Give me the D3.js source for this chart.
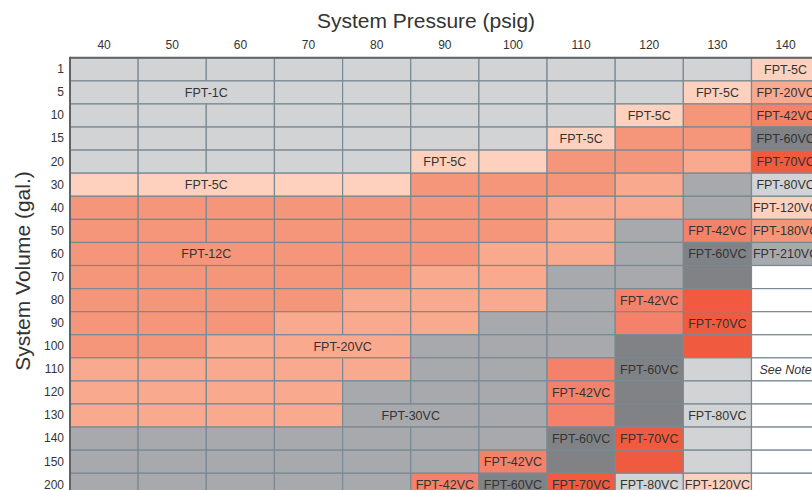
<!DOCTYPE html>
<html>
<head>
<meta charset="utf-8">
<script src="https://cdn.jsdelivr.net/npm/d3@7"></script>
<style>
  html, body { margin: 0; padding: 0; background: #ffffff; overflow: hidden; }
  svg { display: block; font-family: "Liberation Sans", Arial, sans-serif; }
</style>
</head>
<body>
<svg id="chart" width="812" height="490"></svg>
<script>
// ---------- DATA ----------
const pressures = ["40","50","60","70","80","90","100","110","120","130","140"];
const volumes = ["1","5","10","15","20","30","40","50","60","70","80","90","100","110","120","130","140","150","200"];

const modelNames = ["FPT-1C","FPT-5C","FPT-12C","FPT-20VC","FPT-30VC","FPT-42VC","FPT-60VC","FPT-70VC","FPT-80VC","FPT-120VC","FPT-180VC","FPT-210VC","See Note"];
const modelColors = ["#d1d3d4","#fdd1be","#f5967a","#f9a98d","#a7a9ac","#f4826a","#808285","#f05a3e","#d1d3d4","#fdd1be","#f5967a","#a7a9ac","#ffffff"];

// model chosen for each volume row (top to bottom) and pressure column (left to right)
const row1   = ["FPT-1C","FPT-1C","FPT-1C","FPT-1C","FPT-1C","FPT-1C","FPT-1C","FPT-1C","FPT-1C","FPT-1C","FPT-5C"];
const row5   = ["FPT-1C","FPT-1C","FPT-1C","FPT-1C","FPT-1C","FPT-1C","FPT-1C","FPT-1C","FPT-1C","FPT-5C","FPT-20VC"];
const row10  = ["FPT-1C","FPT-1C","FPT-1C","FPT-1C","FPT-1C","FPT-1C","FPT-1C","FPT-1C","FPT-5C","FPT-12C","FPT-42VC"];
const row15  = ["FPT-1C","FPT-1C","FPT-1C","FPT-1C","FPT-1C","FPT-1C","FPT-1C","FPT-5C","FPT-12C","FPT-12C","FPT-60VC"];
const row20  = ["FPT-1C","FPT-1C","FPT-1C","FPT-1C","FPT-1C","FPT-5C","FPT-5C","FPT-12C","FPT-12C","FPT-20VC","FPT-70VC"];
const row30  = ["FPT-5C","FPT-5C","FPT-5C","FPT-5C","FPT-5C","FPT-12C","FPT-12C","FPT-12C","FPT-20VC","FPT-30VC","FPT-80VC"];
const row40  = ["FPT-12C","FPT-12C","FPT-12C","FPT-12C","FPT-12C","FPT-12C","FPT-12C","FPT-20VC","FPT-20VC","FPT-30VC","FPT-120VC"];
const row50  = ["FPT-12C","FPT-12C","FPT-12C","FPT-12C","FPT-12C","FPT-12C","FPT-12C","FPT-20VC","FPT-30VC","FPT-42VC","FPT-180VC"];
const row60  = ["FPT-12C","FPT-12C","FPT-12C","FPT-12C","FPT-12C","FPT-12C","FPT-20VC","FPT-20VC","FPT-30VC","FPT-60VC","FPT-210VC"];
const row70  = ["FPT-12C","FPT-12C","FPT-12C","FPT-12C","FPT-12C","FPT-20VC","FPT-20VC","FPT-30VC","FPT-30VC","FPT-60VC","See Note"];
const row80  = ["FPT-12C","FPT-12C","FPT-12C","FPT-12C","FPT-20VC","FPT-20VC","FPT-20VC","FPT-30VC","FPT-42VC","FPT-70VC","See Note"];
const row90  = ["FPT-12C","FPT-12C","FPT-12C","FPT-20VC","FPT-20VC","FPT-20VC","FPT-30VC","FPT-30VC","FPT-42VC","FPT-70VC","See Note"];
const row100 = ["FPT-12C","FPT-12C","FPT-20VC","FPT-20VC","FPT-20VC","FPT-30VC","FPT-30VC","FPT-30VC","FPT-60VC","FPT-70VC","See Note"];
const row110 = ["FPT-20VC","FPT-20VC","FPT-20VC","FPT-20VC","FPT-20VC","FPT-30VC","FPT-30VC","FPT-42VC","FPT-60VC","FPT-80VC","See Note"];
const row120 = ["FPT-20VC","FPT-20VC","FPT-20VC","FPT-20VC","FPT-30VC","FPT-30VC","FPT-30VC","FPT-42VC","FPT-60VC","FPT-80VC","See Note"];
const row130 = ["FPT-20VC","FPT-20VC","FPT-20VC","FPT-20VC","FPT-30VC","FPT-30VC","FPT-30VC","FPT-42VC","FPT-60VC","FPT-80VC","See Note"];
const row140 = ["FPT-30VC","FPT-30VC","FPT-30VC","FPT-30VC","FPT-30VC","FPT-30VC","FPT-30VC","FPT-60VC","FPT-70VC","FPT-80VC","See Note"];
const row150 = ["FPT-30VC","FPT-30VC","FPT-30VC","FPT-30VC","FPT-30VC","FPT-30VC","FPT-42VC","FPT-60VC","FPT-70VC","FPT-80VC","See Note"];
const row200 = ["FPT-30VC","FPT-30VC","FPT-30VC","FPT-30VC","FPT-30VC","FPT-42VC","FPT-60VC","FPT-70VC","FPT-80VC","FPT-120VC","See Note"];
const gridRows = [row1,row5,row10,row15,row20,row30,row40,row50,row60,row70,row80,row90,row100,row110,row120,row130,row140,row150,row200];

// labelled cells: [volume, pressure, column span, text]
const labelCells = [
  ["5","50",2,"FPT-1C"],
  ["1","140",1,"FPT-5C"],
  ["5","130",1,"FPT-5C"],
  ["10","120",1,"FPT-5C"],
  ["15","110",1,"FPT-5C"],
  ["20","90",1,"FPT-5C"],
  ["30","50",2,"FPT-5C"],
  ["60","50",2,"FPT-12C"],
  ["100","70",2,"FPT-20VC"],
  ["130","80",2,"FPT-30VC"],
  ["5","140",1,"FPT-20VC"],
  ["10","140",1,"FPT-42VC"],
  ["15","140",1,"FPT-60VC"],
  ["20","140",1,"FPT-70VC"],
  ["30","140",1,"FPT-80VC"],
  ["40","140",1,"FPT-120VC"],
  ["50","140",1,"FPT-180VC"],
  ["60","140",1,"FPT-210VC"],
  ["50","130",1,"FPT-42VC"],
  ["60","130",1,"FPT-60VC"],
  ["90","130",1,"FPT-70VC"],
  ["80","120",1,"FPT-42VC"],
  ["110","120",1,"FPT-60VC"],
  ["110","140",1,"See Note"],
  ["120","110",1,"FPT-42VC"],
  ["130","130",1,"FPT-80VC"],
  ["140","110",1,"FPT-60VC"],
  ["140","120",1,"FPT-70VC"],
  ["150","100",1,"FPT-42VC"],
  ["200","90",1,"FPT-42VC"],
  ["200","100",1,"FPT-60VC"],
  ["200","110",1,"FPT-70VC"],
  ["200","120",1,"FPT-80VC"],
  ["200","130",1,"FPT-120VC"]
];

const xTitle = "System Pressure (psig)";
const yTitle = "System Volume (gal.)";

// ---------- DRAW ----------
const svg = d3.select("#chart");
const gridLeft = 70, gridTop = 57.8, colW = 68.15, rowH = 23.08;

const x = d3.scaleBand().domain(pressures).range([gridLeft, gridLeft + colW * pressures.length]).padding(0);
const y = d3.scaleBand().domain(volumes).range([gridTop, gridTop + rowH * volumes.length]).padding(0);
const color = d3.scaleOrdinal().domain(modelNames).range(modelColors);

// build blocks (merge spanned label cells)
const blocks = [];
volumes.forEach((v, ri) => {
  let ci = 0;
  while (ci < pressures.length) {
    const p = pressures[ci];
    const lab = labelCells.find(l => l[0] === v && l[1] === p);
    const span = lab ? lab[2] : 1;
    blocks.push({ v, p, span, model: gridRows[ri][ci], label: lab ? lab[3] : null });
    ci += span;
  }
});

const g = svg.append("g");
g.selectAll("rect.cell").data(blocks).enter().append("rect")
  .attr("class", "cell")
  .attr("x", d => x(d.p))
  .attr("y", d => y(d.v))
  .attr("width", d => x.bandwidth() * d.span)
  .attr("height", y.bandwidth())
  .attr("fill", d => color(d.model))
  .attr("stroke", "#7a8993")
  .attr("stroke-width", 1.2);

g.selectAll("text.lab").data(blocks.filter(d => d.label)).enter().append("text")
  .attr("class", "lab")
  .attr("x", d => x(d.p) + x.bandwidth() * d.span / 2)
  .attr("y", d => y(d.v) + y.bandwidth() / 2)
  .attr("dy", "0.36em")
  .attr("text-anchor", "middle")
  .attr("font-size", 12.5)
  .attr("font-style", d => d.label === "See Note" ? "italic" : "normal")
  .attr("fill", "#333")
  .text(d => d.label);

// outer top/left borders
svg.append("line").attr("x1", gridLeft).attr("x2", 812).attr("y1", gridTop).attr("y2", gridTop)
  .attr("stroke", "#5f6468").attr("stroke-width", 2);
svg.append("line").attr("x1", gridLeft).attr("x2", gridLeft).attr("y1", gridTop - 1).attr("y2", 490)
  .attr("stroke", "#5f6468").attr("stroke-width", 2);

// axes
const xAxis = svg.append("g").attr("transform", `translate(0,${gridTop})`)
  .call(d3.axisTop(x).tickSize(0).tickPadding(9));
xAxis.select(".domain").remove();
xAxis.selectAll("text").attr("font-size", 12).attr("fill", "#333").attr("font-family", "Liberation Sans, Arial, sans-serif");

const yAxis = svg.append("g").attr("transform", `translate(${gridLeft},0)`)
  .call(d3.axisLeft(y).tickSize(0).tickPadding(6));
yAxis.select(".domain").remove();
yAxis.selectAll("text").attr("font-size", 12).attr("fill", "#333").attr("font-family", "Liberation Sans, Arial, sans-serif");

// titles
svg.append("text").attr("x", 426).attr("y", 28).attr("text-anchor", "middle")
  .attr("font-size", 21).attr("fill", "#333").text(xTitle);
svg.append("text").attr("transform", "translate(30,271) rotate(-90)").attr("text-anchor", "middle")
  .attr("font-size", 21).attr("fill", "#333").text(yTitle);
</script>
</body>
</html>
